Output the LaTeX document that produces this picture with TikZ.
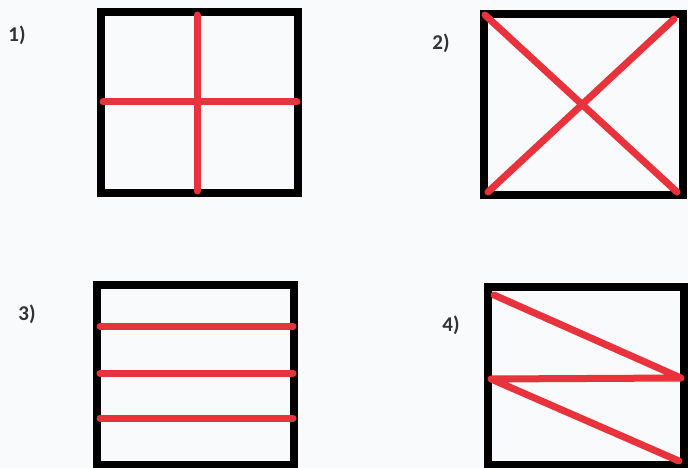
\documentclass[tikz,border=0pt]{standalone}
\usepackage{fontspec}
\setmainfont{Carlito}
\definecolor{pagebg}{RGB}{248,250,252}
\definecolor{strokered}{RGB}{232,50,60}
\definecolor{labelgray}{RGB}{50,50,50}
\tikzset{
	boxline/.style={draw=black, line width=8pt, line join=miter},
	redline/.style={draw=strokered, line width=7pt, line cap=round, line join=round},
	numlabel/.style={text=labelgray, font=\fontsize{21}{23}\selectfont\bfseries, inner sep=0pt}
}
\begin{document}
\begin{tikzpicture}[x=1pt, y=-1pt]
	% Background and bounds:
	\fill[pagebg] (0, 0) rectangle (688, 468);
	\useasboundingbox (0, 0) rectangle (688, 468);
	% Labels:
	\node[numlabel] (lab1) at (17, 35) {1)};
	\node[numlabel] (lab2) at (441, 43) {2)};
	\node[numlabel] (lab3) at (27, 314) {3)};
	\node[numlabel] (lab4) at (451, 325) {4)};
	% Frames:
	\draw[boxline] (101, 12) rectangle (298, 193);
	\draw[boxline] (484, 14) rectangle (683, 195);
	\draw[boxline] (97, 285) rectangle (294, 465);
	\draw[boxline] (488, 287) rectangle (684, 465);
	% 1) cross
	\draw[redline] (197, 15) -- (197, 191);
	\draw[redline] (103, 102) -- (297, 102);
	% 2) diagonals
	\draw[redline] (485, 15) -- (677, 192);
	\draw[redline] (488, 192) -- (674, 19);
	% 3) three rules
	\foreach \y in {326, 373, 418}
		\draw[redline] (100, \y) -- (293, \y);
	% 4) zigzag
	\draw[redline] (494, 295) -- (681, 378) -- (491, 379) -- (679, 461);
\end{tikzpicture}
\end{document}
